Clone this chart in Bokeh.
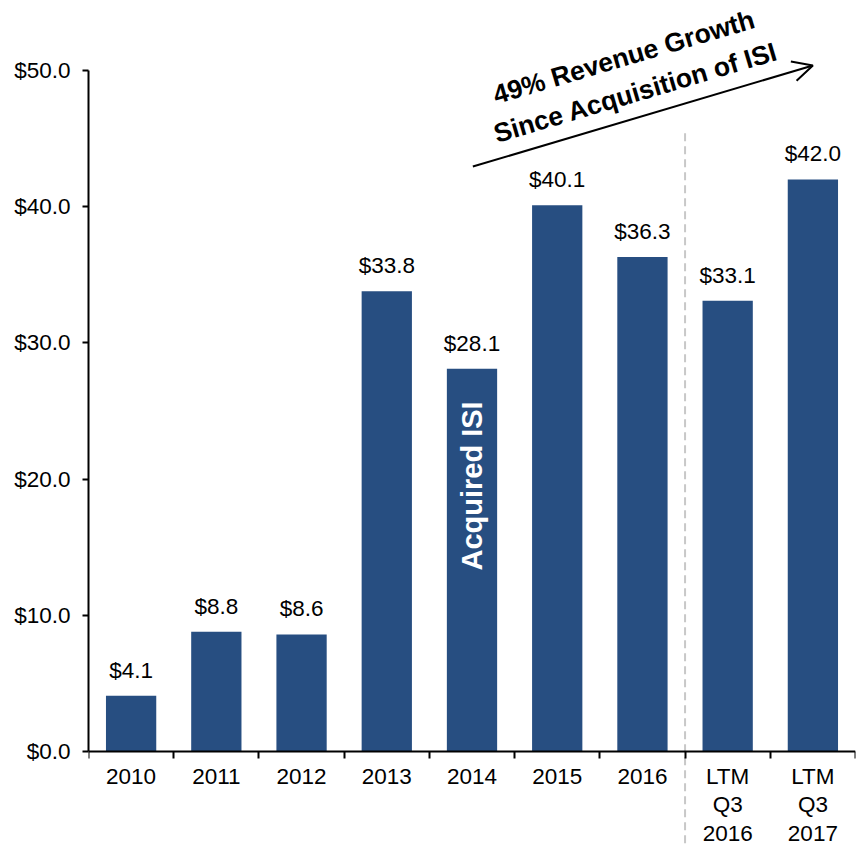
import numpy as np
from bokeh.plotting import figure
from bokeh.models import (Range1d, FixedTicker, LinearAxis, Arrow, OpenHead,
                          NumeralTickFormatter, ColumnDataSource)
from bokeh.core.properties import value
from bokeh.embed import file_html
from bokeh.resources import INLINE

# ---- data ----
categories = ["2010", "2011", "2012", "2013", "2014", "2015", "2016",
              "LTM\nQ3\n2016", "LTM\nQ3\n2017"]
revenue = [4.1, 8.8, 8.6, 33.8, 28.1, 40.1, 36.3, 33.1, 42.0]
y_ticks = [0, 10, 20, 30, 40, 50]
acquired_category = "2014"
first_ltm_category = "LTM\nQ3\n2016"
growth_line1 = "49% Revenue Growth"
growth_line2 = "Since Acquisition of ISI"
acquired_label = "Acquired ISI"

BAR = "#274E81"
FONT = "Liberation Sans"
FS = "22.5px"

n = len(categories)
centers = [i + 0.5 for i in range(n)]
labels = [f"${v:.1f}" for v in revenue]

p = figure(width=856, height=845, x_range=Range1d(0, n), y_range=Range1d(-6.90, 55.14),
           output_backend="svg", toolbar_location=None,
           x_axis_type=None, y_axis_type=None,
           min_border_left=88, min_border_right=1, min_border_top=0, min_border_bottom=0)
p.outline_line_color = None
p.background_fill_color = "white"

# dashed separator between annual and LTM columns
sep_x = categories.index(first_ltm_category)
p.segment(x0=[sep_x], y0=[45.4], x1=[sep_x], y1=[-8], line_color="#C8C8C8",
          line_width=2, line_dash="8 5")

src = ColumnDataSource(dict(x=centers, top=revenue, label=labels))
p.vbar(x="x", top="top", width=0.59, source=src, fill_color=BAR, line_color=None)
p.text(x="x", y="top", text="label", source=src, text_align="center",
       text_baseline="bottom", y_offset=-13, text_font=value(FONT),
       text_font_size=FS, text_color="black")

acq_x = centers[categories.index(acquired_category)]
p.text(x=[acq_x], y=[19.5], text=[acquired_label], angle=np.pi / 2,
       text_align="center", text_baseline="middle", text_color="white",
       text_font=value(FONT), text_font_style="bold", text_font_size="29px")

# growth arrow and annotation
p.add_layout(Arrow(end=OpenHead(size=20, line_width=2, line_color="black"),
                   x_start=4.51, y_start=42.95, x_end=8.5, y_end=50.37,
                   line_width=2, line_color="black"))
ang = 0.288
p.text(x=[6.28, 6.42], y=[50.98, 48.38], text=[growth_line1, growth_line2], angle=ang,
       text_align="center", text_baseline="middle", text_font=value(FONT),
       text_font_style="bold", text_font_size="26.5px", text_color="black")

# axes
yaxis = LinearAxis(ticker=FixedTicker(ticks=y_ticks), formatter=NumeralTickFormatter(format="$0.0"),
                   bounds=(0, 50), axis_line_width=2, axis_line_color="black",
                   major_tick_in=0, major_tick_out=6, major_tick_line_width=2,
                   minor_tick_line_color=None,
                   major_label_text_font=FONT, major_label_text_font_size=FS,
                   major_label_text_color="black", major_label_standoff=12)
p.add_layout(yaxis, "left")

xaxis = LinearAxis(ticker=FixedTicker(ticks=centers, minor_ticks=list(range(n + 1))),
                   major_label_overrides={c: lab for c, lab in zip(centers, categories)},
                   bounds=(0, n), axis_line_width=2, axis_line_color="black",
                   major_tick_in=0, major_tick_out=0,
                   minor_tick_in=0, minor_tick_out=7, minor_tick_line_width=2,
                   minor_tick_line_color="black",
                   major_label_text_font=FONT, major_label_text_font_size=FS,
                   major_label_text_line_height=1.15,
                   major_label_text_color="black", major_label_standoff=5,
                   fixed_location=0)
p.add_layout(xaxis, "below")

open("out.html", "w").write(file_html(p, INLINE))
